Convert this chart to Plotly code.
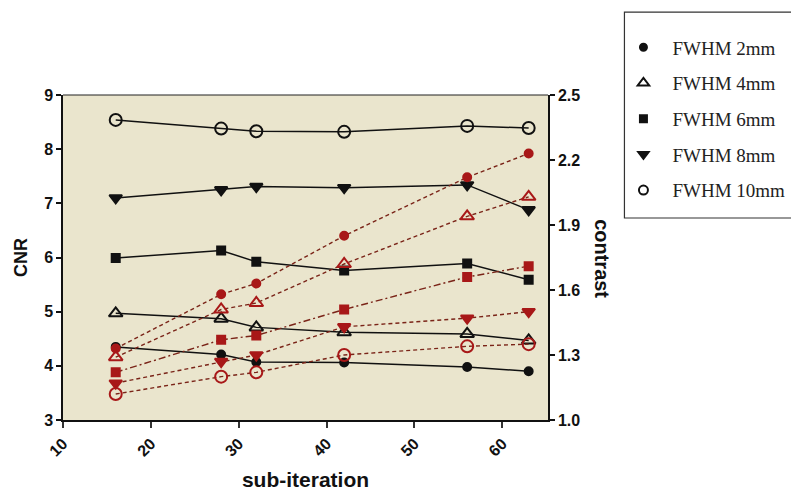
import plotly.graph_objects as go

sub_iter = [16, 28, 32, 42, 56, 63]
labels = ["FWHM 2mm", "FWHM 4mm", "FWHM 6mm", "FWHM 8mm", "FWHM 10mm"]

cnr_2 = [4.35, 4.21, 4.07, 4.06, 3.98, 3.90]
cnr_4 = [4.97, 4.87, 4.71, 4.62, 4.59, 4.47]
cnr_6 = [5.99, 6.13, 5.92, 5.76, 5.89, 5.59]
cnr_8 = [7.10, 7.25, 7.31, 7.29, 7.34, 6.88]
cnr_10 = [8.54, 8.38, 8.33, 8.32, 8.43, 8.39]

con_2 = [1.33, 1.58, 1.63, 1.85, 2.12, 2.23]
con_4 = [1.29, 1.51, 1.54, 1.72, 1.94, 2.03]
con_6 = [1.22, 1.37, 1.39, 1.51, 1.66, 1.71]
con_8 = [1.17, 1.27, 1.30, 1.43, 1.47, 1.50]
con_10 = [1.12, 1.20, 1.22, 1.30, 1.34, 1.35]

cnr_series = [cnr_2, cnr_4, cnr_6, cnr_8, cnr_10]
con_series = [con_2, con_4, con_6, con_8, con_10]

symbols = ["circle", "triangle-up-open", "square", "triangle-down", "circle-open"]
sizes = [8, 12, 8, 11, 12]
red_dash = ["4px,3px", "4px,3px", "7px,3px,2px,3px", "4px,3px", "4px,3px"]

BLACK = "#111111"
RED = "#A81818"
RED_LINE = "#7A2418"

fig = go.Figure()

for i in range(5):
    fig.add_trace(go.Scatter(
        x=sub_iter, y=con_series[i], mode="lines+markers", yaxis="y2",
        line=dict(color=RED_LINE, width=1.4, dash=red_dash[i]),
        marker=dict(symbol=symbols[i], size=sizes[i], color=RED,
                    line=dict(color=RED, width=2)),
        showlegend=False, hoverinfo="skip"))

for i in range(5):
    fig.add_trace(go.Scatter(
        x=sub_iter, y=cnr_series[i], mode="lines+markers",
        line=dict(color=BLACK, width=1.5),
        marker=dict(symbol=symbols[i], size=sizes[i], color=BLACK,
                    line=dict(color=BLACK, width=2)),
        showlegend=False))

for i in range(5):
    fig.add_trace(go.Scatter(
        x=[None], y=[None], mode="markers", name=labels[i],
        legendgroup=labels[i],
        marker=dict(symbol=symbols[i], size=[7, 10, 7, 9, 9][i], color=BLACK,
                    line=dict(color=BLACK, width=2))))

tick_font = dict(family="Arial, Liberation Sans", size=16, color="#111", weight="bold")
xtitle_font = dict(family="Arial, Liberation Sans", size=21, color="#111", weight="bold")
ytitle_font = dict(family="Arial, Liberation Sans", size=18, color="#111", weight="bold")
y2title_font = dict(family="Arial, Liberation Sans", size=20, color="#111", weight="bold")

# page body has an 8px offset; margins compensate
fig.update_layout(
    width=799, height=493,
    margin=dict(l=51, r=259, t=87, b=81),
    paper_bgcolor="white", plot_bgcolor="#EAE5CD",
    xaxis=dict(range=[10, 65.2], tickvals=[10, 20, 30, 40, 50, 60], tickangle=-45,
               showgrid=False, zeroline=False, showline=True, linecolor=BLACK, linewidth=2,
               ticks="outside", ticklen=6, tickwidth=2, tickcolor="#333",
               tickfont=tick_font,
               title=dict(text="sub-iteration", font=xtitle_font, standoff=14)),
    yaxis=dict(range=[3, 9], tickvals=[3, 4, 5, 6, 7, 8, 9], showgrid=False, zeroline=False,
               showline=True, linecolor=BLACK, linewidth=1.5,
               ticks="outside", ticklen=5, tickwidth=1.5, tickcolor=BLACK,
               tickfont=tick_font,
               title=dict(text="CNR", font=ytitle_font, standoff=12)),
    yaxis2=dict(range=[1.0, 2.5], tickvals=[1.0, 1.3, 1.6, 1.9, 2.2, 2.5],
                ticktext=["1.0", "1.3", "1.6", "1.9", "2.2", "2.5"],
                overlaying="y", side="right", showgrid=False, zeroline=False,
                showline=True, linecolor=BLACK, linewidth=1.5,
                ticks="outside", ticklen=5, tickwidth=1.5, tickcolor=BLACK,
                tickfont=tick_font),
    legend=dict(x=1.137, y=1.205, xanchor="left", yanchor="top",
                font=dict(family="Times New Roman, Liberation Serif", size=19, color="#222"),
                bgcolor="rgba(0,0,0,0)", borderwidth=0, itemwidth=48,
                traceorder="grouped", tracegroupgap=8),
    shapes=[
        dict(type="rect", xref="paper", yref="paper", x0=1.1576, x1=1.53, y0=0.6215, y1=1.255,
             line=dict(color="#333", width=1.2)),
        dict(type="line", xref="paper", yref="paper", x0=0, x1=1, y0=1, y1=1,
             line=dict(color="#222", width=1.2)),
    ],
    annotations=[
        dict(text="contrast", xref="paper", yref="paper", x=1.110, y=0.497, textangle=90,
             showarrow=False, font=y2title_font, xanchor="center", yanchor="middle"),
    ],
)

fig.write_html("out.html")
